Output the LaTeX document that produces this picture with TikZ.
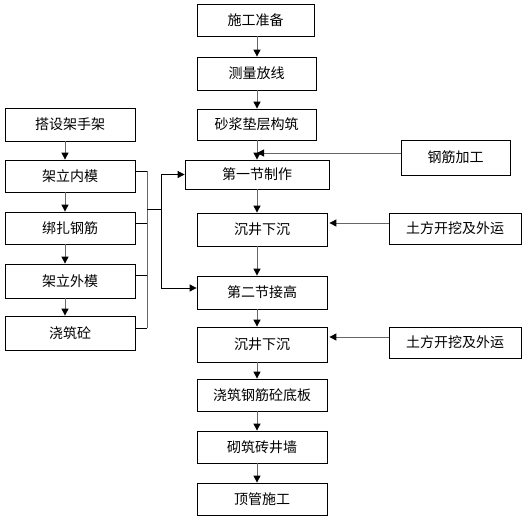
\documentclass[tikz,border=0pt]{standalone}
\usepackage{fontspec}
\newfontfamily\cjk{Noto Sans CJK SC}
\usetikzlibrary{arrows.meta}

\begin{document}
\begin{tikzpicture}[x=1pt,y=-1pt,
  box/.style={draw, line width=0.8pt, inner sep=0pt, font=\cjk\fontsize{14}{16}\selectfont},
  link/.style={draw=black!60, line width=1pt, -{Triangle[length=7pt,width=7pt,black]}},
  stub/.style={line width=0.8pt},
  feed/.style={line width=0.8pt, -{Triangle[length=7pt,width=7pt,black]}}]

  \useasboundingbox (0,0) rectangle (523,517);

  \coordinate (ax) at (257,0);
  \coordinate (lx) at (65,0);
  \coordinate (bx) at (147,0);
  \coordinate (cx) at (161,0);

  % main column
  \node[box, minimum width=117pt, minimum height=32pt] (prep)   at (255.5,20)  {施工准备};
  \node[box, minimum width=119pt, minimum height=33pt] (survey) at (256.5,73.5) {测量放线};
  \node[box, minimum width=119pt, minimum height=31pt] (mortar) at (256.5,124.5) {砂浆垫层构筑};
  \node[box, minimum width=144pt, minimum height=29pt] (sec1)   at (257,174.5) {第一节制作};
  \node[box, minimum width=130pt, minimum height=33pt] (sink1)  at (262,229.5) {沉井下沉};
  \node[box, minimum width=130pt, minimum height=33pt] (sec2)   at (262,292.5) {第二节接高};
  \node[box, minimum width=130pt, minimum height=35pt] (sink2)  at (262,344.5) {沉井下沉};
  \node[box, minimum width=130pt, minimum height=32pt] (base)   at (262,395)   {浇筑钢筋砼底板};
  \node[box, minimum width=130pt, minimum height=32pt] (wall)   at (262,447)   {砌筑砖井墙};
  \node[box, minimum width=130pt, minimum height=32pt] (pipe)   at (262,499)   {顶管施工};

  % right column
  \node[box, minimum width=109pt, minimum height=35pt] (rebar)  at (455.5,157.5) {钢筋加工};
  \node[box, minimum width=132pt, minimum height=31pt] (earth1) at (455,228.5)  {土方开挖及外运};
  \node[box, minimum width=132pt, minimum height=31pt] (earth2) at (455,342.5)  {土方开挖及外运};

  % left column
  \node[box, minimum width=130pt, minimum height=33pt] (scaf)  at (70,124.5) {搭设架手架};
  \node[box, minimum width=130pt, minimum height=32pt] (inner) at (70,176)   {架立内模};
  \node[box, minimum width=130pt, minimum height=32pt] (tie)   at (70,228)   {绑扎钢筋};
  \node[box, minimum width=130pt, minimum height=34pt] (outer) at (70,281)   {架立外模};
  \node[box, minimum width=130pt, minimum height=34pt] (pour)  at (70,333)   {浇筑砼};

  \draw[link] (prep.south -| ax) -- (survey.north -| ax);
  \draw[link] (survey.south -| ax) -- (mortar.north -| ax);
  \draw[link] (mortar.south -| ax) -- (sec1.north -| ax);
  \draw[link] (sec1.south -| ax) -- (sink1.north -| ax);
  \draw[link] (sink1.south -| ax) -- (sec2.north -| ax);
  \draw[link] (sec2.south -| ax) -- (sink2.north -| ax);
  \draw[link] (sink2.south -| ax) -- (base.north -| ax);
  \draw[link] (base.south -| ax) -- (wall.north -| ax);
  \draw[link] (wall.south -| ax) -- (pipe.north -| ax);

  \draw[link] ([yshift=4.5pt]rebar.west) -- ([yshift=4.5pt]rebar.west -| ax);
  \draw[link] ([yshift=5.5pt]earth1.west) -- ([yshift=5.5pt,xshift=2pt]earth1.west -| sink1.east);
  \draw[link] ([yshift=5.5pt]earth2.west) -- ([yshift=5.5pt,xshift=2pt]earth2.west -| sink2.east);

  \draw[link] (scaf.south -| lx) -- (inner.north -| lx);
  \draw[link] (inner.south -| lx) -- (tie.north -| lx);
  \draw[link] (tie.south -| lx) -- (outer.north -| lx);
  \draw[link] (outer.south -| lx) -- (pour.north -| lx);

  % bracket
  \draw[stub] ([yshift=5pt]inner.east) -- ([yshift=5pt]inner.east -| bx);
  \draw[stub] ([yshift=5pt]tie.east) -- ([yshift=5pt]tie.east -| bx);
  \draw[stub] ([yshift=6pt]outer.east) -- ([yshift=6pt]outer.east -| bx);
  \draw[stub] ([yshift=5pt]pour.east) -- ([yshift=5pt]pour.east -| bx);
  \draw[draw=black!60, line width=1pt] ([yshift=5pt]inner.east -| bx) -- ([yshift=5pt]pour.east -| bx);
  \coordinate (mid) at (147,209);
  \draw[stub] (mid) -- (mid -| cx);
  \draw[feed] (mid -| cx) |- (sec1.west);
  \draw[feed] (mid -| cx) |- ([yshift=4.5pt]sec2.west);
\end{tikzpicture}
\end{document}
